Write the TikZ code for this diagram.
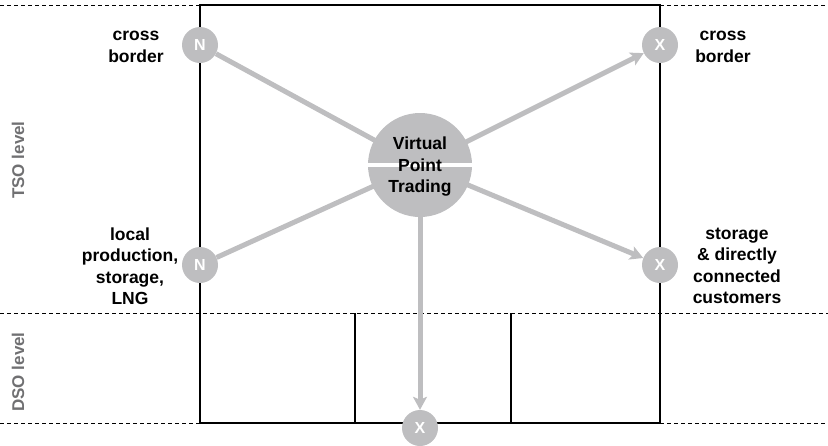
\documentclass[tikz,border=0pt]{standalone}
\usepackage{fontspec}
\setmainfont{Liberation Sans}
\usetikzlibrary{arrows.meta}
\definecolor{flowgray}{RGB}{190,190,192}
\definecolor{levelgray}{RGB}{112,112,114}
\tikzset{
  pointnode/.style={circle,fill=flowgray,minimum size=36pt,inner sep=0pt,text=white,font=\bfseries\fontsize{16}{16}\selectfont},
  lbl/.style={align=center,inner sep=0pt,font=\bfseries\fontsize{17.5}{21.5}\selectfont},
  levellbl/.style={rotate=90,text=levelgray,inner sep=0pt,font=\bfseries\fontsize{17}{17}\selectfont},
  flow/.style={draw=flowgray,line width=5pt},
  flowarrow/.style={flow,-{Stealth[length=13pt,width=14pt,inset=3pt]}},
  levelline/.style={dash pattern=on 4pt off 3pt,line width=0.9pt}
}
\begin{document}
\begin{tikzpicture}[x=1pt,y=-1pt]
  \useasboundingbox (0,0) rectangle (828,445);
  % levels
  \draw[levelline] (0,5) -- (200,5);
  \draw[levelline] (660,5) -- (828,5);
  \draw[levelline] (0,313) -- (828,313);
  \draw[levelline] (0,423) -- (200,423);
  \draw[levelline] (660,423) -- (828,423);
  % market area
  \draw[line width=1.8pt] (200,5) rectangle (660,423);
  \draw[line width=1.3pt] (355,313) -- (355,423);
  \draw[line width=1.3pt] (511,313) -- (511,423);
  \node[levellbl] (tso) at (18,160) {TSO level};
  \node[levellbl] (dso) at (18,372) {DSO level};
  % entry and exit points
  \node[pointnode] (n1) at (200,45) {N};
  \node[pointnode] (n2) at (200,265) {N};
  \node[pointnode] (x1) at (660,45) {X};
  \node[pointnode] (x2) at (660,265) {X};
  \node[pointnode] (x3) at (420,428) {X};
  \coordinate (c) at (420,165);
  \draw[flow] (n1) -- (c);
  \draw[flow] (n2) -- (c);
  \draw[flowarrow] (c) -- (x1);
  \draw[flowarrow] (c) -- (x2);
  \draw[flowarrow] (c) -- (x3);
  % virtual point
  \node[circle,fill=flowgray,minimum size=104pt,inner sep=0pt] (vp) at (c) {};
  \fill[white] (366,163.3) rectangle (474,166.7);
  \node[lbl] (vptxt) at (420,167) {Virtual\\Point\\Trading};
  % labels
  \node[lbl] (l1) at (136,47) {cross\\border};
  \node[lbl] (l2) at (130,266) {local\\production,\\storage,\\LNG};
  \node[lbl] (l3) at (723,47) {cross\\border};
  \node[lbl] (l4) at (737,266) {storage\\\& directly\\connected\\customers};
\end{tikzpicture}
\end{document}
